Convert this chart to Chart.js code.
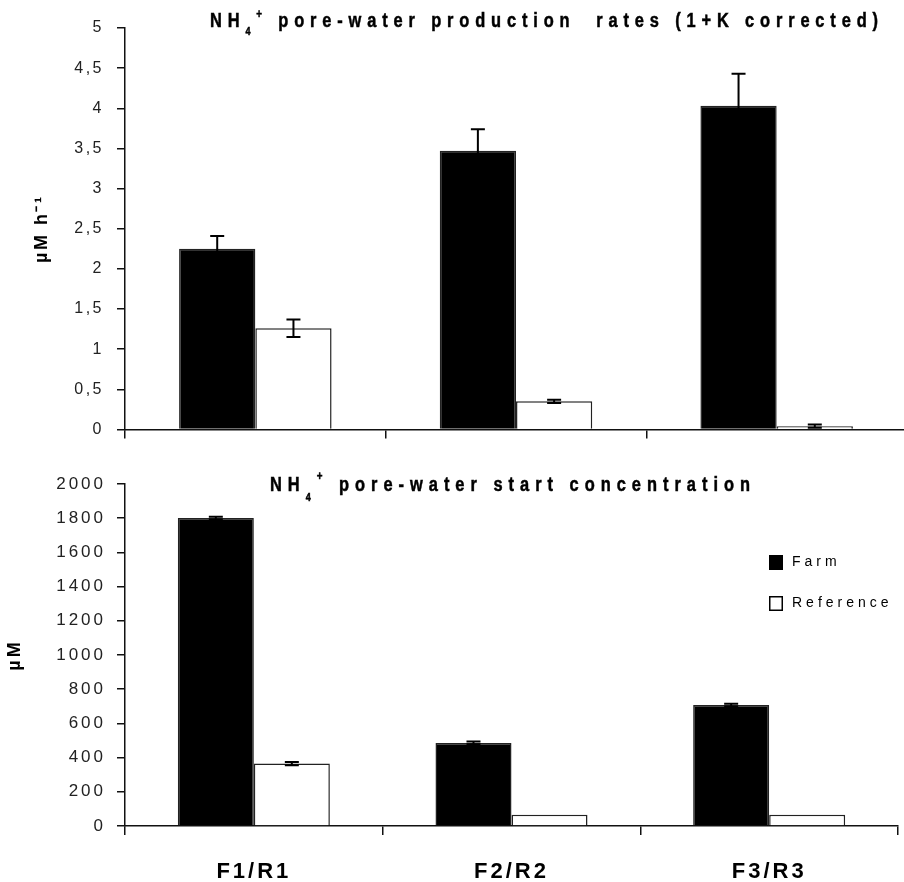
<!DOCTYPE html>
<html>
<head>
<meta charset="utf-8">
<script src="https://cdn.jsdelivr.net/npm/chart.js@4.4.1/dist/chart.umd.min.js"></script>
<style>
  html, body { margin: 0; padding: 0; background: #fff; overflow: hidden; width: 904px; height: 882px; }
  #topBox { position: absolute; left: 0; top: 0; }
  #bottomBox { position: absolute; left: 0; top: 445px; }
</style>
</head>
<body>
<div id="topBox"><canvas id="rateChart" width="912" height="452"></canvas></div>
<div id="bottomBox"><canvas id="concChart" width="904" height="437"></canvas></div>
<script>
// data
const sites = ["F1/R1", "F2/R2", "F3/R3"];
const seriesNames = ["Farm", "Reference"];

// NH4+ production rates (µM h-1)
const rateFarm = [2.25, 3.47, 4.03];
const rateFarmErr = [0.16, 0.27, 0.40];
const rateRef = [1.26, 0.35, 0.04];
const rateRefErr = [0.11, 0.02, 0.02];
const rateTicks = [0, 0.5, 1, 1.5, 2, 2.5, 3, 3.5, 4, 4.5, 5];

// NH4+ start concentration (µM)
const concFarm = [1801, 486, 707];
const concFarmErr = [8, 8, 8];
const concRef = [365, 66, 66];
const concRefErr = [10, 0, 0];
const concTicks = [0, 200, 400, 600, 800, 1000, 1200, 1400, 1600, 1800, 2000];

const FONT = "'Liberation Sans', Arial, sans-serif";
const INK = "#111";

// letter spacing for the chart's own text (ticks, axis titles)
const spacing = (px) => ({
    id: "spacing",
    beforeUpdate(c) { c.ctx.letterSpacing = px + "px"; },
    beforeDraw(c) { c.ctx.letterSpacing = px + "px"; },
});

// error bars from the errors arrays
const errorBars = {
    id: "errorBars",
    afterDatasetsDraw(c) {
        const ctx = c.ctx;
        const y = c.scales.y;
        ctx.save();
        ctx.strokeStyle = "#000";
        ctx.lineWidth = 2;
        c.data.datasets.forEach((ds, i) => {
            const meta = c.getDatasetMeta(i);
            meta.data.forEach((bar, j) => {
                const err = ds.errors[j];
                if (!err) return;
                const v = ds.data[j];
                const yt = y.getPixelForValue(v + err);
                const yb = y.getPixelForValue(Math.max(v - err, 0));
                const x = bar.x;
                ctx.beginPath();
                ctx.moveTo(x, yt); ctx.lineTo(x, yb);
                ctx.moveTo(x - 7, yt); ctx.lineTo(x + 7, yt);
                ctx.moveTo(x - 7, yb); ctx.lineTo(x + 7, yb);
                ctx.stroke();
            });
        });
        ctx.restore();
    },
};

// condensed, spaced bold text fitted to a width
function drawSpaced(ctx, parts, x, base, width, sx) {
    ctx.save();
    ctx.letterSpacing = "0px";
    ctx.fillStyle = "#000";
    ctx.strokeStyle = "#000";
    ctx.lineWidth = 0.5;
    ctx.textBaseline = "alphabetic";
    ctx.textAlign = "left";
    let natural = 0, n = 0;
    parts.forEach((p) => {
        ctx.font = "bold " + p.size + "px " + FONT;
        for (const ch of p.t) { natural += ctx.measureText(ch).width * sx; n++; }
    });
    const gap = (width - natural) / (n - 1);
    let cx = x;
    parts.forEach((p) => {
        ctx.font = "bold " + p.size + "px " + FONT;
        for (const ch of p.t) {
            ctx.save();
            ctx.translate(cx, base + (p.dy || 0));
            ctx.scale(sx, 1);
            ctx.fillText(ch, 0, 0);
            ctx.strokeText(ch, 0, 0);
            ctx.restore();
            cx += ctx.measureText(ch).width * sx + gap;
        }
    });
    ctx.restore();
}

const titlePlugin = (text, x, base, width, subDy, supDy) => ({
    id: "richTitle",
    afterDraw(c) {
        drawSpaced(c.ctx, [
            { t: "NH", size: 20 },
            { t: "4", size: 11, dy: subDy },
            { t: "+", size: 12, dy: supDy },
            { t: text, size: 20 },
        ], x, base, width, 0.82);
    },
});

// legend drawn from the dataset labels/colours
const boxLegend = {
    id: "boxLegend",
    afterDraw(c) {
        const ctx = c.ctx;
        const area = c.chartArea;
        const lx = area.right - 129;
        ctx.save();
        ctx.letterSpacing = "4px";
        ctx.font = "14px " + FONT;
        ctx.textAlign = "left";
        ctx.textBaseline = "alphabetic";
        c.data.datasets.forEach((ds, i) => {
            const top = area.top + 71 + i * 41;
            ctx.fillStyle = ds.backgroundColor;
            ctx.fillRect(lx, top, 14, 15);
            ctx.strokeStyle = "#000";
            ctx.lineWidth = 1.5;
            ctx.strokeRect(lx + 0.75, top + 0.75, 12.5, 13.5);
            ctx.fillStyle = "#000";
            ctx.fillText(ds.label, lx + 23, top + 11);
        });
        ctx.restore();
    },
};

function barSets(farm, farmErr, ref, refErr) {
    return [
        {
            label: seriesNames[0],
            data: farm,
            errors: farmErr,
            backgroundColor: "#000",
            borderColor: "#222",
            borderWidth: 1.5,
        },
        {
            label: seriesNames[1],
            data: ref,
            errors: refErr,
            backgroundColor: "#fff",
            borderColor: "#222",
            borderWidth: 1.5,
        },
    ];
}

function yAxis(ticks, title, titlePad, tickSize, tickPad, fmt) {
    return {
        min: ticks[0],
        max: ticks[ticks.length - 1],
        afterBuildTicks: (s) => { s.ticks = ticks.map((v) => ({ value: v })); },
        afterFit: (s) => { s.width = 125; },
        ticks: {
            color: "#222",
            padding: tickPad,
            font: { family: FONT, size: tickSize },
            callback: fmt,
        },
        grid: { drawOnChartArea: false, tickLength: 8, color: INK, lineWidth: 1.5 },
        border: { color: INK, width: 1.5 },
        title: {
            display: true,
            text: title,
            color: "#000",
            font: { family: FONT, size: 18, weight: "bold" },
            padding: { top: titlePad, bottom: 0 },
        },
    };
}

document.addEventListener("DOMContentLoaded", () => {
    // top: production rates
    new Chart(document.getElementById("rateChart").getContext("2d"), {
        type: "bar",
        data: { labels: sites, datasets: barSets(rateFarm, rateFarmErr, rateRef, rateRefErr) },
        options: {
            responsive: false,
            animation: false,
            layout: { padding: { top: 28, right: 5, left: 0, bottom: 0 } },
            datasets: { bar: { barPercentage: 1, categoryPercentage: 0.585 } },
            plugins: { legend: { display: false }, tooltip: { enabled: false } },
            scales: {
                x: {
                    ticks: { display: false },
                    grid: { drawOnChartArea: false, tickLength: 9, color: INK, lineWidth: 1.5, offset: true },
                    border: { color: INK, width: 1.5 },
                    afterFit: (s) => { s.height = 22; },
                },
                y: yAxis(rateTicks, "µM h⁻¹", 31, 16, 13, (v) => String(v).replace(".", ",")),
            },
        },
        plugins: [spacing(2.5), errorBars,
            titlePlugin(" pore-water production  rates (1+K corrected)", 210, 27, 668, 8, -9)],
    });

    // bottom: start concentration
    new Chart(document.getElementById("concChart").getContext("2d"), {
        type: "bar",
        data: { labels: sites, datasets: barSets(concFarm, concFarmErr, concRef, concRefErr) },
        options: {
            responsive: false,
            animation: false,
            layout: { padding: { top: 39, right: 6, left: 0, bottom: 0 } },
            datasets: { bar: { barPercentage: 1, categoryPercentage: 0.59 } },
            plugins: { legend: { display: false }, tooltip: { enabled: false } },
            scales: {
                x: {
                    ticks: {
                        color: "#000",
                        padding: 24,
                        maxRotation: 0,
                        autoSkip: false,
                        font: { family: FONT, size: 22, weight: "bold" },
                    },
                    grid: { drawOnChartArea: false, tickLength: 9, color: INK, lineWidth: 1.5, offset: true },
                    border: { color: INK, width: 1.5 },
                    afterFit: (s) => { s.height = 56; },
                },
                y: yAxis(concTicks, "µM", 4, 17, 11, (v) => String(v)),
            },
        },
        plugins: [spacing(3), errorBars, boxLegend,
            titlePlugin(" pore-water start concentration", 270, 46, 480, 10, -11)],
    });
});
</script>
</body>
</html>
